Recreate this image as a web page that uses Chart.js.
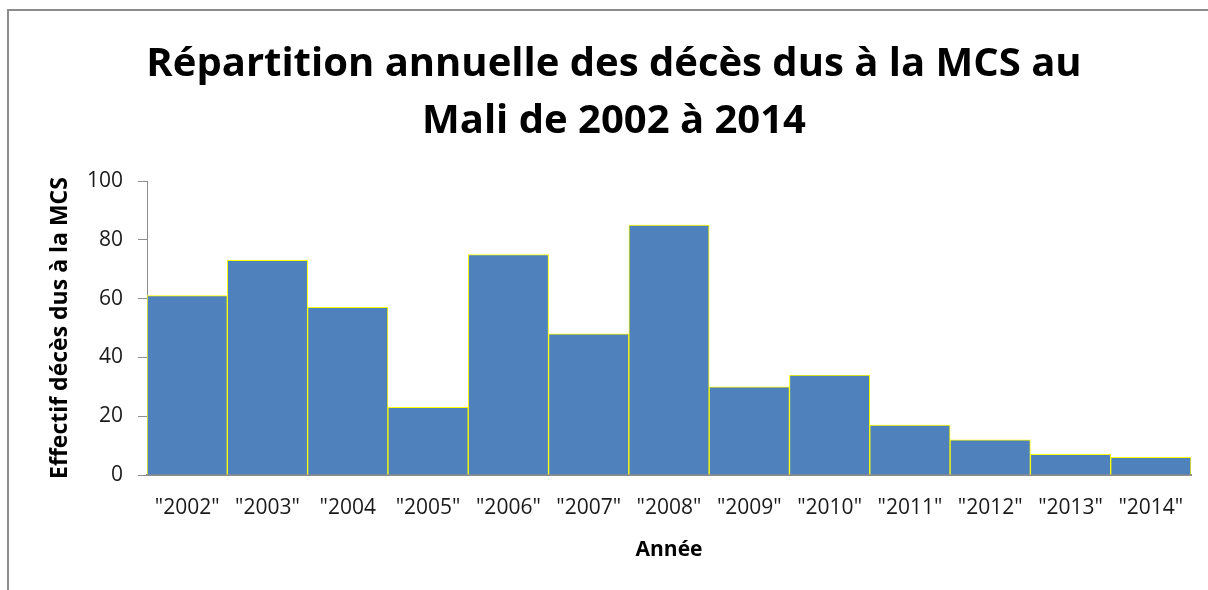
<!DOCTYPE html>
<html>
<head>
<meta charset="utf-8">
<script src="https://cdn.jsdelivr.net/npm/chart.js@4"></script>
<style>
  html, body { margin: 0; padding: 0; background: #fff; }
  #wrap { width: 1208px; height: 590px; position: relative; }
</style>
</head>
<body>
<div id="wrap"><canvas id="deathChart"></canvas></div>
<script>
var years = ['"2002"', '"2003"', '"2004', '"2005"', '"2006"', '"2007"', '"2008"',
             '"2009"', '"2010"', '"2011"', '"2012"', '"2013"', '"2014"'];
var deaths = [61, 73, 57, 23, 75, 48, 85, 30, 34, 17, 12, 7, 6];
var yTicks = [0, 20, 40, 60, 80, 100];

var chartTitle = ['Répartition annuelle des décès dus à la MCS au', 'Mali de 2002 à 2014'];
var yTitle = 'Effectif décès dus à la MCS';
var xTitle = 'Année';

var FONT = '"Open Sans", "Noto Sans", sans-serif';

// grey frame of the original Excel chart (only top and left edges are visible)
var framePlugin = {
    id: 'frame',
    beforeDraw: function(chart) {
        var ctx = chart.ctx;
        ctx.save();
        ctx.strokeStyle = '#8c8c8c';
        ctx.lineWidth = 2;
        ctx.beginPath();
        ctx.moveTo(chart.width, 10);
        ctx.lineTo(8, 10);
        ctx.lineTo(8, chart.height);
        ctx.stroke();
        ctx.restore();
    }
};

function createChart() {
    var canvas = document.getElementById('deathChart');
    new Chart(canvas, {
        type: 'bar',
        data: {
            labels: years,
            datasets: [{
                label: yTitle,
                data: deaths,
                backgroundColor: '#4f81bd',
                borderColor: '#ffff00',
                borderWidth: 1,
                barPercentage: 1,
                categoryPercentage: 1
            }]
        },
        options: {
            responsive: true,
            maintainAspectRatio: false,
            animation: false,
            layout: { padding: { left: 37, right: 17, top: 0, bottom: 0 } },
            plugins: {
                legend: { display: false },
                tooltip: { enabled: false },
                title: {
                    display: true,
                    text: chartTitle,
                    color: '#000',
                    font: { family: FONT, size: 40, weight: 'bold', lineHeight: 1.425 },
                    padding: { top: 36, bottom: 31 }
                }
            },
            scales: {
                x: {
                    grid: { display: false, drawTicks: false },
                    border: { display: true, color: '#8c8c8c', width: 2 },
                    ticks: {
                        color: '#1a1a1a',
                        font: { family: FONT, size: 21 },
                        padding: 20,
                        maxRotation: 0,
                        autoSkip: false
                    },
                    title: {
                        display: true,
                        text: xTitle,
                        color: '#000',
                        font: { family: FONT, size: 21, weight: 'bold' },
                        padding: { top: 0, bottom: 27 }
                    },
                    afterFit: function(scale) { scale.height = 115; }
                },
                y: {
                    min: 0,
                    max: 100,
                    afterBuildTicks: function(scale) {
                        scale.ticks = yTicks.map(function(v) { return { value: v }; });
                    },
                    grid: {
                        drawOnChartArea: false,
                        drawTicks: true,
                        tickLength: 9,
                        color: '#8c8c8c'
                    },
                    border: { display: true, color: '#8c8c8c', width: 1 },
                    ticks: {
                        color: '#1a1a1a',
                        font: { family: FONT, size: 21 },
                        padding: 15
                    },
                    title: {
                        display: true,
                        text: yTitle,
                        color: '#000',
                        font: { family: FONT, size: 23, weight: 'bold' },
                        padding: { top: 10, bottom: 0 }
                    },
                    afterFit: function(scale) { scale.width = 110; }
                }
            }
        },
        plugins: [framePlugin]
    });
}

window.onload = function() {
    createChart();
};
</script>
</body>
</html>
